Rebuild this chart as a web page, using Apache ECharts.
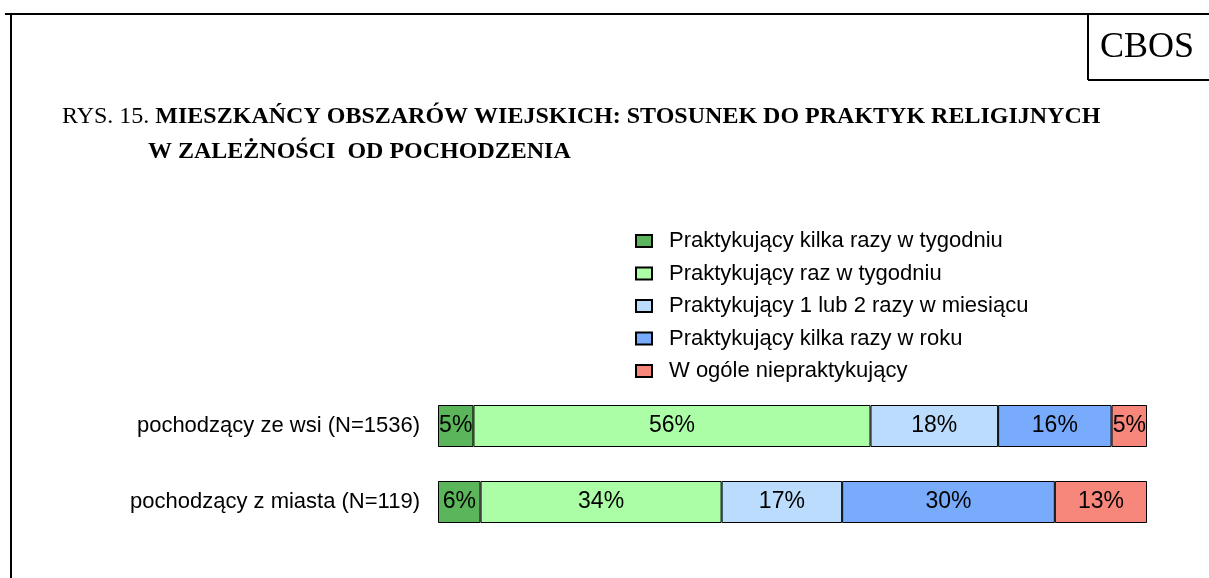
<!DOCTYPE html>
<html>
<head>
<meta charset="utf-8">
<script src="https://cdn.jsdelivr.net/npm/echarts@6/dist/echarts.min.js"></script>
<style>
  html, body { margin: 0; padding: 0; background: #fff; }
  #chart { width: 1209px; height: 578px; }
</style>
</head>
<body>
<div id="chart"></div>
<script>
// dane z rysunku
const categories = ['pochodzący ze wsi (N=1536)', 'pochodzący z miasta (N=119)'];
const seriesNames = [
  'Praktykujący kilka razy w tygodniu',
  'Praktykujący raz w tygodniu',
  'Praktykujący 1 lub 2 razy w miesiącu',
  'Praktykujący kilka razy w roku',
  'W ogóle niepraktykujący'
];
const kilkaTydzien = [5, 6];
const razTydzien = [56, 34];
const razyMiesiac = [18, 17];
const kilkaRok = [16, 30];
const nieprakt = [5, 13];
const colors = ['#5BB65B', '#ABFDA6', '#BBDCFD', '#78ABFC', '#F7877B'];

const values = [kilkaTydzien, razTydzien, razyMiesiac, kilkaRok, nieprakt];

const chart = echarts.init(document.getElementById('chart'));

const option = {
  backgroundColor: '#fff',
  animation: false,
  title: [
    {
      left: 62, top: 105, padding: 0,
      text: '{n|RYS. 15. }{b|MIESZKAŃCY OBSZARÓW WIEJSKICH: STOSUNEK DO PRAKTYK RELIGIJNYCH}',
      textStyle: {
        fontWeight: 'normal',
        rich: {
          n: { fontFamily: 'Liberation Serif', fontSize: 24, fontWeight: 'normal', color: '#000' },
          b: { fontFamily: 'Liberation Serif', fontSize: 24, fontWeight: 'bold', color: '#000' }
        }
      }
    },
    {
      left: 148, top: 140, padding: 0,
      text: 'W ZALEŻNOŚCI  OD POCHODZENIA',
      textStyle: { fontFamily: 'Liberation Serif', fontSize: 24, fontWeight: 'bold', color: '#000' }
    },
    {
      left: 1100, top: 30, padding: 0,
      text: 'CBOS',
      textStyle: { fontFamily: 'Liberation Serif', fontSize: 36, fontWeight: 'normal', color: '#000' }
    }
  ],
  graphic: [
    { type: 'line', shape: { x1: 5, y1: 14, x2: 1209, y2: 14 }, style: { stroke: '#000', lineWidth: 2 } },
    { type: 'line', shape: { x1: 11, y1: 14, x2: 11, y2: 578 }, style: { stroke: '#000', lineWidth: 2 } },
    { type: 'line', shape: { x1: 1088, y1: 14, x2: 1088, y2: 80 }, style: { stroke: '#000', lineWidth: 2 } },
    { type: 'line', shape: { x1: 1088, y1: 80, x2: 1209, y2: 80 }, style: { stroke: '#000', lineWidth: 2 } }
  ],
  legend: {
    orient: 'vertical',
    left: 635, top: 230, padding: 0,
    itemWidth: 16, itemHeight: 12,
    itemGap: 10.5,
    icon: 'rect',
    textStyle: { fontFamily: 'Liberation Sans', fontSize: 22, color: '#000', lineHeight: 22, padding: [0, 0, 0, 12] },
    data: seriesNames
  },
  grid: { left: 438, right: 62, top: 388, height: 152 },
  xAxis: { type: 'value', min: 0, max: 100, show: false },
  yAxis: {
    type: 'category',
    inverse: true,
    data: categories,
    axisLine: { show: false },
    axisTick: { show: false },
    axisLabel: { margin: 18, fontFamily: 'Liberation Sans', fontSize: 22, color: '#000' }
  },
  series: seriesNames.map((name, i) => ({
    name: name,
    type: 'bar',
    stack: 'all',
    barWidth: 42,
    data: values[i],
    itemStyle: { color: colors[i], borderColor: '#000', borderWidth: 1 },
    label: {
      show: true,
      position: 'inside',
      formatter: '{c}%',
      fontFamily: 'Liberation Sans',
      fontSize: 23,
      color: '#000'
    }
  }))
};

chart.setOption(option);
</script>
</body>
</html>
